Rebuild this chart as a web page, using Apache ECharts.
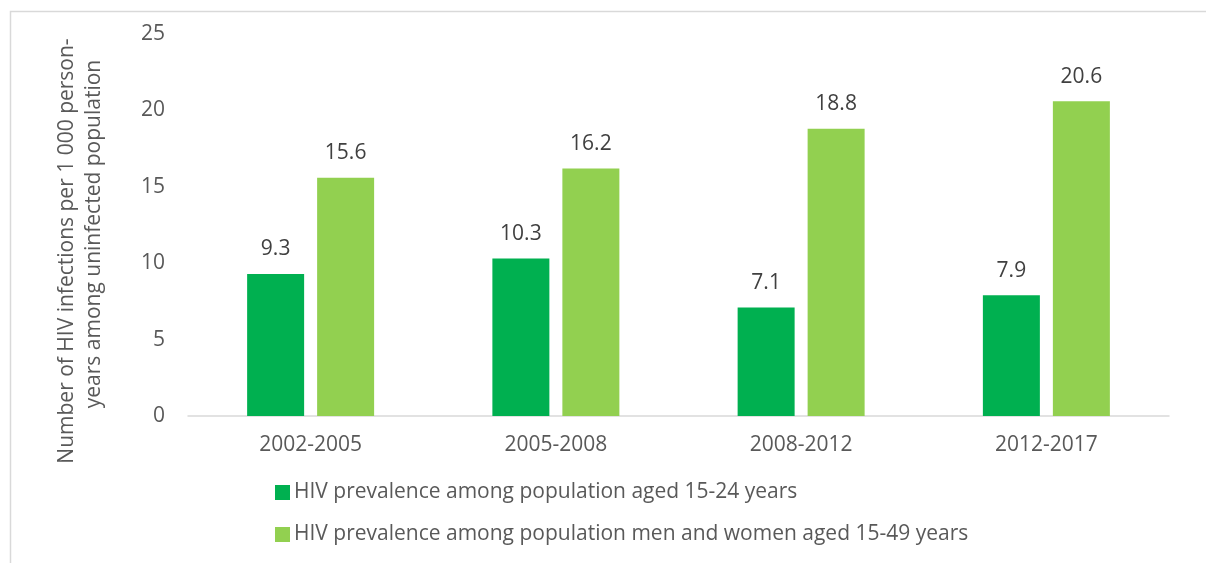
<!DOCTYPE html>
<html>
<head>
<meta charset="utf-8">
<style>
  html, body { margin: 0; padding: 0; background: #ffffff; }
  #chart { width: 1206px; height: 563px; }
</style>
<script src="https://cdn.jsdelivr.net/npm/echarts@6/dist/echarts.min.js"></script>
</head>
<body>
<div id="chart"></div>
<script>
// Periods of the survey rounds
const periods = ['2002-2005', '2005-2008', '2008-2012', '2012-2017'];

// HIV incidence per 1 000 person-years
const youthValues = [9.3, 10.3, 7.1, 7.9];
const adultValues = [15.6, 16.2, 18.8, 20.6];

const seriesNames = [
  'HIV prevalence among population aged 15-24 years',
  'HIV prevalence among population men and women aged 15-49 years'
];

const yTitleLines = [
  'Number of HIV infections per 1 000 person-',
  'years among uninfected population'
];

const FONT = '"Open Sans", sans-serif';
const TEXT = '#595959';

const chart = echarts.init(document.getElementById('chart'));

chart.setOption({
  backgroundColor: '#ffffff',
  animation: false,
  textStyle: { fontFamily: FONT, color: TEXT },
  grid: { left: 188, right: 37, top: 34, bottom: 147, containLabel: false },
  legend: {
    orient: 'vertical',
    left: 270,
    top: 477,
    itemWidth: 15,
    itemHeight: 15,
    itemGap: 21,
    icon: 'rect',
    textStyle: { fontFamily: FONT, fontSize: 21, color: TEXT, padding: [0, 0, 0, -1] },
    data: seriesNames
  },
  xAxis: {
    type: 'category',
    data: periods,
    axisLine: { lineStyle: { color: '#d9d9d9', width: 1.5 } },
    axisTick: { show: false },
    axisLabel: { fontFamily: FONT, fontSize: 21, color: TEXT, margin: 19 }
  },
  yAxis: {
    type: 'value',
    min: 0,
    max: 25,
    interval: 5,
    axisLine: { show: false },
    axisTick: { show: false },
    splitLine: { show: false },
    axisLabel: { fontFamily: FONT, fontSize: 21, color: TEXT, margin: 23 }
  },
  graphic: [
    {
      type: 'rect',
      silent: true,
      shape: { x: 10.5, y: 11.5, width: 1300, height: 700 },
      style: { fill: 'none', stroke: '#d9d9d9', lineWidth: 1.5 }
    },
    {
      type: 'text',
      x: 67, y: 251,
      rotation: Math.PI / 2,
      style: {
        text: yTitleLines[0], x: 0, y: 0,
        align: 'center', verticalAlign: 'middle',
        font: '21px ' + FONT, fill: TEXT
      }
    },
    {
      type: 'text',
      x: 94, y: 234,
      rotation: Math.PI / 2,
      style: {
        text: yTitleLines[1], x: 0, y: 0,
        align: 'center', verticalAlign: 'middle',
        font: '21px ' + FONT, fill: TEXT
      }
    }
  ],
  series: [
    {
      name: seriesNames[0],
      type: 'bar',
      data: youthValues,
      barWidth: 57,
      barGap: '22.8%',
      itemStyle: { color: '#00B050' },
      label: {
        show: true, position: 'top', distance: 14,
        fontFamily: FONT, fontSize: 21, color: '#404040'
      }
    },
    {
      name: seriesNames[1],
      type: 'bar',
      data: adultValues,
      barWidth: 57,
      barGap: '22.8%',
      itemStyle: { color: '#92D050' },
      label: {
        show: true, position: 'top', distance: 14,
        fontFamily: FONT, fontSize: 21, color: '#404040'
      }
    }
  ]
});
</script>
</body>
</html>
